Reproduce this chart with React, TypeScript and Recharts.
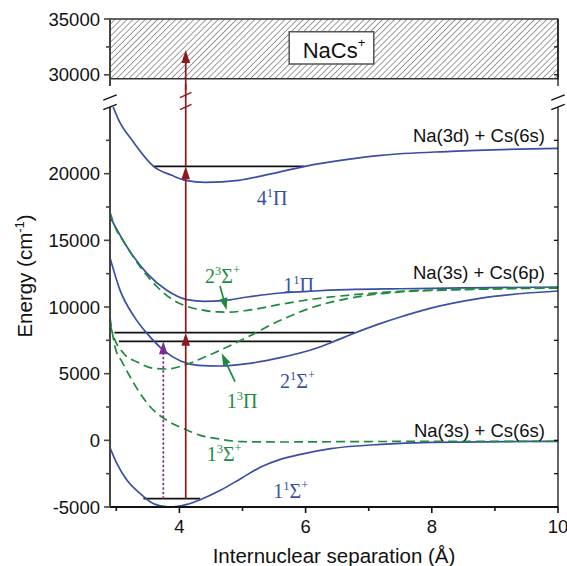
import React from "react";
import {
  ComposedChart,
  Line,
  XAxis,
  YAxis,
  ReferenceLine,
  ReferenceArea,
  ReferenceDot,
} from "recharts";

type Pt = [number, number];

const BLUE = "#3a4fa4";
const GREEN = "#1d8b3e";
const RED = "#8b1a1c";
const PURPLE = "#7c2f90";
const SANS = "'Liberation Sans', Arial, Helvetica, sans-serif";
const SERIF = "'Liberation Serif', 'Times New Roman', serif";

// internuclear separation (Å)
const xDomain: Pt = [2.9, 10];
const xTicks = [3, 4, 5, 6, 7, 8, 9, 10];
const xLabeled = [4, 6, 8, 10];

// lower panel energy (cm-1)
const lowDomain: Pt = [-5000, 25000];
const lowTicks = [-5000, -2500, 0, 2500, 5000, 7500, 10000, 12500, 15000, 17500, 20000, 22500];
const lowLabeled = [-5000, 0, 5000, 10000, 15000, 20000];

// upper panel (ion region)
const highDomain: Pt = [29000, 35000];
const highTicks = [30000, 32500, 35000];
const highLabeled = [30000, 35000];
const ionLimit = 29650;
const ionBoxR: Pt = [5.74, 7.08];
const ionBoxE: Pt = [30970, 33860];

// singlet potentials [R, E]
const s11Sigma: Pt[] = [
  [2.9, -550], [3.01, -1750], [3.17, -3000], [3.38, -4000], [3.59, -4750], [3.85, -5000],
  [4.12, -4800], [4.33, -4450], [4.65, -3750], [4.97, -2875], [5.29, -2000], [5.6, -1425],
  [5.92, -1050], [6.4, -625], [7.19, -300], [8, -150], [10, -75],
];
const s21Sigma: Pt[] = [
  [2.9, 13700], [3.06, 11250], [3.28, 9300], [3.49, 8000], [3.75, 6750], [4.02, 5950],
  [4.3, 5620], [4.65, 5575], [5.08, 5750], [5.6, 6200], [6.13, 6850], [6.45, 7420],
  [6.77, 8030], [7.18, 8750], [7.5, 9250], [7.97, 9900], [8.76, 10650], [10, 11200],
];
const s11Pi: Pt[] = [
  [2.9, 16750], [3.17, 14500], [3.49, 12500], [3.8, 11250], [4.12, 10550], [4.4, 10420],
  [4.7, 10480], [5.08, 10750], [5.6, 11050], [6.13, 11200], [6.66, 11300], [7.5, 11370],
  [8.5, 11430], [10, 11500],
];
const s41Pi: Pt[] = [
  [2.95, 25000], [3.04, 24000], [3.25, 22500], [3.59, 20550], [3.88, 19875], [4.1, 19500],
  [4.41, 19350], [4.94, 19500], [5.47, 20000], [5.99, 20550], [6.64, 21050], [7.19, 21375],
  [8.3, 21675], [10, 21900],
];

// triplet potentials [R, E]
const t13Sigma: Pt[] = [
  [2.9, 9200], [2.98, 7000], [3.09, 5900], [3.22, 4750], [3.38, 3500], [3.54, 2500],
  [3.8, 1500], [4.07, 875], [4.33, 375], [4.6, 125], [5.0, -100], [5.6, -125], [7, -90],
  [10, -70],
];
const t13Pi: Pt[] = [
  [2.9, 8700], [2.96, 7750], [3.12, 6500], [3.33, 5875], [3.59, 5400], [3.8, 5350],
  [4.02, 5550], [4.33, 6100], [4.55, 6550], [5.08, 7750], [5.6, 9000], [6.13, 10000],
  [6.66, 10625], [7.19, 11000], [7.5, 11125], [8.5, 11300], [10, 11420],
];
const t23Sigma: Pt[] = [
  [2.9, 17100], [2.98, 16000], [3.12, 14875], [3.38, 13000], [3.65, 11500], [3.91, 10500],
  [4.12, 10050], [4.33, 9800], [4.6, 9630], [4.8, 9620], [5.08, 9750], [5.6, 10200],
  [6.13, 10600], [6.66, 10875], [7.5, 11175], [8.7, 11350], [10, 11450],
];

// vibrational levels
const levelEnergy = [20550, 8075, 7425, -4375];
const levelFrom = [3.59, 2.97, 3.04, 3.43];
const levelTo = [5.98, 6.78, 6.41, 4.33];

// excitation arrows
const pumpR = 4.1;
const pumpStops = [-4375, 8075, 20550, 26700];
const ionR = 4.1;
const ionStops = [28400, 32220];
const probeR = 3.745;
const probeStops = [-4375, 7425];

// pointers from triplet labels to curves
const pointerFrom: Pt[] = [[4.643, 11575], [4.881, 4400]];
const pointerTo: Pt[] = [[4.749, 9775], [4.67, 6530]];

// term labels: anchor [R, E], v, multiplicity, symbol, parity, singlet?
const terms = [
  { at: [5.225, 17650] as Pt, v: "4", m: "1", s: "Π", p: "", singlet: true },
  { at: [4.406, 11775] as Pt, v: "2", m: "3", s: "Σ", p: "+", singlet: false },
  { at: [5.646, 11160] as Pt, v: "1", m: "1", s: "Π", p: "", singlet: true },
  { at: [5.594, 3900] as Pt, v: "2", m: "1", s: "Σ", p: "+", singlet: true },
  { at: [4.749, 2400] as Pt, v: "1", m: "3", s: "Π", p: "", singlet: false },
  { at: [4.432, -1550] as Pt, v: "1", m: "3", s: "Σ", p: "+", singlet: false },
  { at: [5.488, -4350] as Pt, v: "1", m: "1", s: "Σ", p: "+", singlet: true },
];

const asymptotes = ["Na(3d) + Cs(6s)", "Na(3s) + Cs(6p)", "Na(3s) + Cs(6s)"];
const asymptoteE = [22375, 12100, 250];
const asymptoteR = 9.794;

const rows = (pts: Pt[]) => pts.map(([r, e]) => ({ r, e }));

const arrowShape = (color: string, head: boolean, dash?: string, len = 13, half = 4.3) => (p: any) => {
  const { x1, y1, x2, y2 } = p;
  const a = Math.atan2(y2 - y1, x2 - x1);
  const c = Math.cos(a);
  const s = Math.sin(a);
  const bx = x2 - len * c;
  const by = y2 - len * s;
  const ex = head ? bx + 2 * c : x2;
  const ey = head ? by + 2 * s : y2;
  return (
    <g>
      <line x1={x1} y1={y1} x2={ex} y2={ey} stroke={color} strokeWidth={1.7} strokeDasharray={dash} />
      {head && (
        <polygon
          points={`${x2},${y2} ${bx - s * half},${by + c * half} ${bx + s * half},${by - c * half}`}
          fill={color}
        />
      )}
    </g>
  );
};

const breakMarks = (color: string, gap: number, w: number) => (p: any) => (
  <g stroke={color} strokeWidth={1.4}>
    <line x1={p.cx - w} y1={p.cy + 2.6} x2={p.cx + w} y2={p.cy - 2.6} />
    <line x1={p.cx - w} y1={p.cy - gap + 2.6} x2={p.cx + w} y2={p.cy - gap - 2.6} />
  </g>
);

const leftTick = (labeled: number[]) => (p: any) => {
  const v = p.payload.value;
  const major = labeled.includes(v);
  return (
    <g>
      <line x1={p.x} x2={p.x - (major ? 6 : 4)} y1={p.y} y2={p.y} stroke="#444" strokeWidth={1.6} />
      {major && (
        <text x={p.x - 10} y={p.y} dy="0.36em" textAnchor="end" fontSize={18.5} fontFamily={SANS} fill="#111">
          {v}
        </text>
      )}
    </g>
  );
};

const rightTick = (p: any) => (
  <line x1={p.x} x2={p.x - 4} y1={p.y} y2={p.y} stroke="#111" strokeWidth={1.3} />
);

const bottomTick = (p: any) => {
  const v = p.payload.value;
  const major = xLabeled.includes(v);
  return (
    <g>
      <line x1={p.x} x2={p.x} y1={p.y} y2={p.y + (major ? 6 : 4)} stroke="#111" strokeWidth={1.6} />
      {major && (
        <text x={p.x} y={p.y + 26} textAnchor="middle" fontSize={18.5} fontFamily={SANS} fill="#111">
          {v}
        </text>
      )}
    </g>
  );
};

const xTitle = (p: any) => {
  const vb = p.viewBox || { x: 110, y: 507, width: 448, height: 59 };
  return (
    <text x={vb.x + vb.width / 2} y={vb.y + 56} textAnchor="middle" fontSize={20.5} fontFamily={SANS} fill="#111">
      Internuclear separation (Å)
    </text>
  );
};

const yTitle = (p: any) => {
  const vb = p.viewBox || { x: 0, y: 107, width: 110, height: 400 };
  const x = vb.x + 32;
  const y = vb.y + 169;
  return (
    <text x={x} y={y} transform={`rotate(-90, ${x}, ${y})`} textAnchor="middle" fontSize={20.5} fontFamily={SANS} fill="#111">
      Energy (cm<tspan dy={-8} fontSize={13}>-1</tspan>
      <tspan dy={8}>)</tspan>
    </text>
  );
};

const termLabel = (t: (typeof terms)[number]) => (p: any) => (
  <text x={p.cx} y={p.cy} fontFamily={SERIF} fontSize={20} fill={t.singlet ? BLUE : GREEN}>
    {t.v}
    <tspan dy={-8} fontSize={12.5}>{t.m}</tspan>
    <tspan dy={8}>{t.s}</tspan>
    {t.p && <tspan dy={-9} fontSize={12.5}>{t.p}</tspan>}
  </text>
);

const curves = [
  { pts: s41Pi, color: BLUE, dash: undefined },
  { pts: s11Pi, color: BLUE, dash: undefined },
  { pts: s21Sigma, color: BLUE, dash: undefined },
  { pts: s11Sigma, color: BLUE, dash: undefined },
  { pts: t23Sigma, color: GREEN, dash: "9 5" },
  { pts: t13Pi, color: GREEN, dash: "9 5" },
  { pts: t13Sigma, color: GREEN, dash: "9 5" },
];

export default function App() {
  return (
    <div style={{ position: "relative", width: 567, height: 566, background: "#fff" }}>
      <style>{`body{margin:0;}`}</style>
      <svg width={0} height={0} style={{ position: "absolute" }}>
        <defs>
          <pattern id="hatch" patternUnits="userSpaceOnUse" width={4.3} height={4.3} patternTransform="rotate(45)">
            <line x1={0} y1={0} x2={0} y2={4.3} stroke="#222" strokeWidth={0.9} />
          </pattern>
        </defs>
      </svg>

      {/* upper panel: ionisation continuum */}
      <div style={{ position: "absolute", left: 0, top: 0 }}>
        <ComposedChart width={567} height={90} margin={{ top: 19, right: 0, bottom: 4, left: 0 }}>
          <XAxis type="number" dataKey="r" domain={xDomain} allowDataOverflow hide />
          <YAxis
            yAxisId="l"
            type="number"
            domain={highDomain}
            allowDataOverflow
            ticks={highTicks}
            interval={0}
            width={110}
            tickSize={0}
            tickMargin={0}
            tickLine={false}
            axisLine={{ stroke: "#444", strokeWidth: 2 }}
            tick={leftTick(highLabeled)}
          />
          <YAxis
            yAxisId="r"
            orientation="right"
            type="number"
            domain={highDomain}
            allowDataOverflow
            ticks={highTicks.slice(0, 2)}
            interval={0}
            width={9}
            tickSize={0}
            tickMargin={0}
            tickLine={false}
            axisLine={{ stroke: "#111", strokeWidth: 1.3 }}
            tick={rightTick}
          />
          <ReferenceArea
            yAxisId="l"
            y1={ionLimit}
            y2={highDomain[1]}
            fill="url(#hatch)"
            fillOpacity={1}
            stroke="#333"
            strokeWidth={1.4}
            ifOverflow="visible"
          />
          <ReferenceLine
            yAxisId="l"
            segment={[{ x: ionR, y: ionStops[0] }, { x: ionR, y: ionStops[1] }]}
            ifOverflow="visible"
            shape={arrowShape(RED, true)}
          />
          <ReferenceArea
            yAxisId="l"
            x1={ionBoxR[0]}
            x2={ionBoxR[1]}
            y1={ionBoxE[0]}
            y2={ionBoxE[1]}
            fill="#fff"
            fillOpacity={1}
            stroke="#555"
            strokeWidth={1.5}
          />
          <ReferenceDot
            yAxisId="l"
            x={(ionBoxR[0] + ionBoxR[1]) / 2 + 0.04}
            y={31480}
            r={0}
            ifOverflow="visible"
            shape={(p: any) => (
              <text x={p.cx} y={p.cy} textAnchor="middle" fontSize={22} fontFamily={SANS} fill="#111">
                NaCs<tspan dy={-11} fontSize={13}>+</tspan>
              </text>
            )}
          />
        </ComposedChart>
      </div>

      {/* lower panel: molecular potentials */}
      <div style={{ position: "absolute", left: 0, top: 0 }}>
        <ComposedChart width={567} height={566} margin={{ top: 107, right: 0, bottom: 0, left: 0 }}>
          <XAxis
            type="number"
            dataKey="r"
            domain={xDomain}
            allowDataOverflow
            ticks={xTicks}
            interval={0}
            height={59}
            tickSize={0}
            tickMargin={0}
            tickLine={false}
            axisLine={{ stroke: "#111", strokeWidth: 1.8 }}
            tick={bottomTick}
            label={xTitle}
          />
          <YAxis
            yAxisId="l"
            type="number"
            domain={lowDomain}
            allowDataOverflow
            ticks={lowTicks}
            interval={0}
            width={110}
            tickSize={0}
            tickMargin={0}
            tickLine={false}
            axisLine={{ stroke: "#444", strokeWidth: 2 }}
            tick={leftTick(lowLabeled)}
            label={yTitle}
          />
          <YAxis
            yAxisId="r"
            orientation="right"
            type="number"
            domain={lowDomain}
            allowDataOverflow
            ticks={lowTicks}
            interval={0}
            width={9}
            tickSize={0}
            tickMargin={0}
            tickLine={false}
            axisLine={{ stroke: "#111", strokeWidth: 1.3 }}
            tick={rightTick}
          />

          {levelEnergy.map((e, i) => (
            <ReferenceLine
              key={`lv${i}`}
              yAxisId="l"
              segment={[{ x: levelFrom[i], y: e }, { x: levelTo[i], y: e }]}
              stroke="#111"
              strokeWidth={1.8}
            />
          ))}

          {curves.map((c, i) => (
            <Line
              key={`c${i}`}
              yAxisId="l"
              data={rows(c.pts)}
              dataKey="e"
              type="monotone"
              stroke={c.color}
              strokeWidth={1.7}
              strokeDasharray={c.dash}
              dot={false}
              activeDot={false}
              isAnimationActive={false}
            />
          ))}

          {pumpStops.slice(1).map((e, i) => (
            <ReferenceLine
              key={`pump${i}`}
              yAxisId="l"
              segment={[{ x: pumpR, y: pumpStops[i] }, { x: pumpR, y: e }]}
              ifOverflow="visible"
              shape={arrowShape(RED, i < 2)}
            />
          ))}
          <ReferenceLine
            yAxisId="l"
            segment={[{ x: probeR, y: probeStops[0] }, { x: probeR, y: probeStops[1] }]}
            shape={arrowShape(PURPLE, true, "2.5 2")}
          />

          {pointerFrom.map((f, i) => (
            <ReferenceLine
              key={`ptr${i}`}
              yAxisId="l"
              segment={[{ x: f[0], y: f[1] }, { x: pointerTo[i][0], y: pointerTo[i][1] }]}
              shape={arrowShape(GREEN, true, undefined, 12, 4)}
            />
          ))}

          {terms.map((t, i) => (
            <ReferenceDot key={`t${i}`} yAxisId="l" x={t.at[0]} y={t.at[1]} r={0} ifOverflow="visible" shape={termLabel(t)} />
          ))}

          {asymptotes.map((a, i) => (
            <ReferenceDot
              key={`a${i}`}
              yAxisId="l"
              x={asymptoteR}
              y={asymptoteE[i]}
              r={0}
              ifOverflow="visible"
              shape={(p: any) => (
                <text x={p.cx} y={p.cy} textAnchor="end" fontSize={18.5} fontFamily={SANS} fill="#111">
                  {a}
                </text>
              )}
            />
          ))}

          <ReferenceDot yAxisId="l" x={xDomain[0]} y={lowDomain[1]} r={0} ifOverflow="visible" shape={breakMarks("#111", 9.5, 6.7)} />
          <ReferenceDot yAxisId="l" x={xDomain[1]} y={lowDomain[1]} r={0} ifOverflow="visible" shape={breakMarks("#111", 9.5, 6.7)} />
          <ReferenceDot yAxisId="l" x={pumpR} y={lowDomain[1]} r={0} ifOverflow="visible" shape={breakMarks(RED, 12, 5.8)} />
        </ComposedChart>
      </div>
    </div>
  );
}
